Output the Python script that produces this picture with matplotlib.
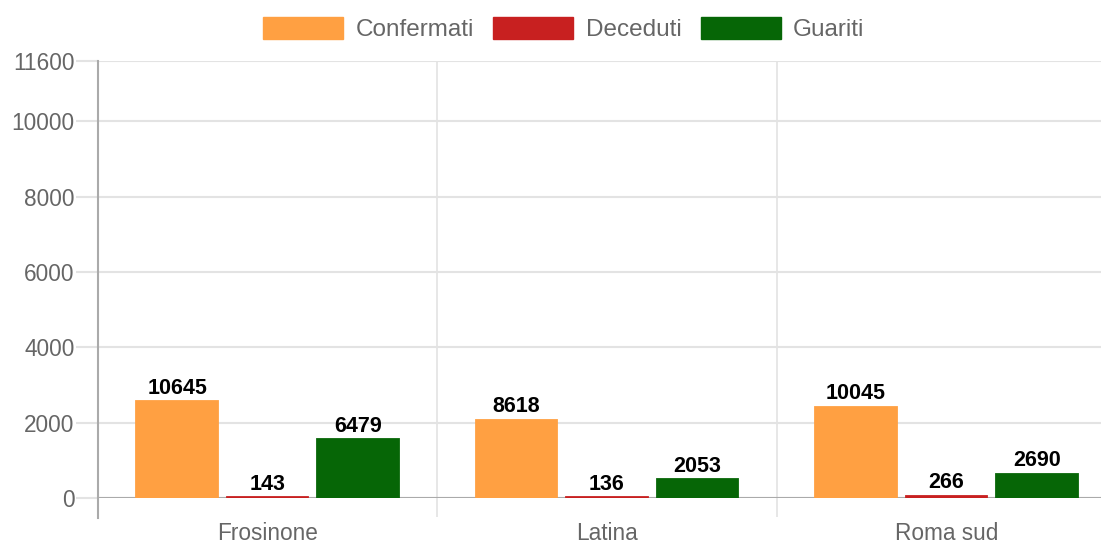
import matplotlib
matplotlib.use("Agg")
import matplotlib.pyplot as plt
from matplotlib.patches import Patch
import numpy as np

plt.rcParams['font.family'] = ['Liberation Sans', 'DejaVu Sans']

categories = ['Frosinone', 'Latina', 'Roma sud']
series_names = ['Confermati', 'Deceduti', 'Guariti']
confermati = [10645, 8618, 10045]
deceduti = [143, 136, 266]
guariti = [6479, 2053, 2690]
yticks = [0, 2000, 4000, 6000, 8000, 10000, 11600]

colors = ['#FFA042', '#C82020', '#066606']
grid_c = '#E3E3E3'
text_c = '#666666'

W, H = 1101, 544
fig = plt.figure(figsize=(W / 100, H / 100), dpi=100)
left, right, top, bottom = 98, 1116, 61, 498
ax = fig.add_axes([left / W, (H - bottom) / H, (right - left) / W, (bottom - top) / H])

ax.set_xlim(-0.5, len(categories) - 0.5)
ax.set_ylim(0, 11600)
ax.set_yticks(yticks)
ax.set_yticklabels([str(v) for v in yticks])
ax.grid(axis='y', color=grid_c, linewidth=1.5)
ax.set_axisbelow(True)
for s in ax.spines.values():
    s.set_visible(False)
ax.tick_params(axis='y', length=16, width=1.5, color=grid_c, labelsize=16.3,
               labelcolor=text_c, pad=1)

x = np.arange(len(categories))
ax.set_xticks(x)
ax.set_xticklabels(categories)
ax.tick_params(axis='x', which='major', length=0, labelsize=16.3, labelcolor=text_c, pad=17)
ax.set_xticks(np.arange(-0.5, len(categories)), minor=True)
ax.tick_params(axis='x', which='minor', length=14, width=1.2, color=grid_c)
ax.grid(axis='x', which='minor', color=grid_c, linewidth=1.2)
ax.axvline(-0.5, ymin=-20 / 437, ymax=1, color='#AAAAAA', linewidth=1.5, clip_on=False, zorder=3)
ax.axhline(0, color='#AAAAAA', linewidth=1.5, zorder=3)

# bars sit on a hidden second scale
ax2 = ax.twinx()
ax2.set_ylim(0, 48000)
ax2.set_axis_off()
slot = 0.8 / 3
bw = slot * 0.9
for i, vals in enumerate([confermati, deceduti, guariti]):
    xs = x - 0.4 + slot * (i + 0.5)
    ax2.bar(xs, vals, width=bw, color=colors[i], edgecolor=colors[i], linewidth=1.3, zorder=4)
    for xi, v in zip(xs, vals):
        ax2.annotate(str(v), (xi, v), xytext=(0, 1.5), textcoords='offset points',
                     ha='center', va='bottom', fontsize=15.5, fontweight='bold', color='black')

handles = [Patch(facecolor=c, edgecolor=c) for c in colors]
fig.legend(handles, series_names, loc='center', bbox_to_anchor=(0.512, 1 - 29 / H), ncol=3,
           frameon=False, fontsize=17.5, labelcolor=text_c, handlelength=3.3, handleheight=1.05,
           handletextpad=0.5, columnspacing=0.8)

fig.savefig('out.png', dpi=100)
